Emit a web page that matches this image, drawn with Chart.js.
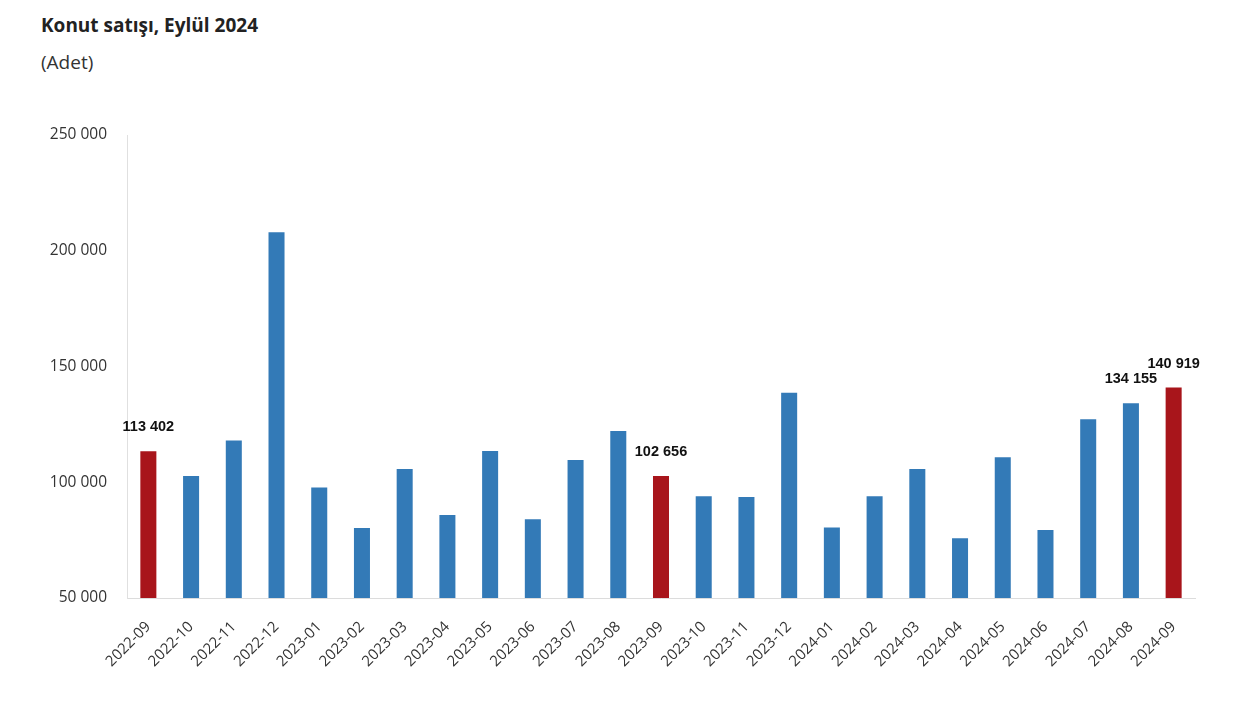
<!DOCTYPE html>
<html>
<head>
<meta charset="utf-8">
<script src="https://cdn.jsdelivr.net/npm/chart.js@4.4.1/dist/chart.umd.min.js"></script>
<style>
  body { margin: 0; background: #fff; }
  .wrap { position: relative; width: 1239px; height: 705px; }
  .title { position: absolute; left: 41px; top: 12px; font: bold 19px "Open Sans", sans-serif; color: #222; }
  .sub { position: absolute; left: 41px; top: 49px; font: 19px "Open Sans", sans-serif; color: #333; }
  canvas { position: absolute; left: 0; top: 0; }
</style>
</head>
<body>
<div class="wrap">
  <div class="title">Konut satışı, Eylül 2024</div>
  <div class="sub">(Adet)</div>
  <canvas id="chart" width="1239" height="705"></canvas>
</div>
<script>
const categories = ['2022-09','2022-10','2022-11','2022-12','2023-01','2023-02','2023-03','2023-04',
  '2023-05','2023-06','2023-07','2023-08','2023-09','2023-10','2023-11','2023-12',
  '2024-01','2024-02','2024-03','2024-04','2024-05','2024-06','2024-07','2024-08','2024-09'];
const sales = [113402, 102700, 118000, 208000, 97700, 80200, 105700, 85900,
  113500, 84000, 109600, 122100, 102656, 93900, 93600, 138700,
  80500, 94000, 105700, 75800, 110800, 79400, 127200, 134155, 140919];
// September bars are red, the rest blue
const highlighted = ['2022-09', '2023-09', '2024-09'];
// bars that carry a value label
const labeled = ['2022-09', '2023-09', '2024-08', '2024-09'];

const BLUE = '#337ab7';
const RED = '#a8151b';

const fmt = v => String(v).replace(/\B(?=(\d{3})+(?!\d))/g, ' ');

const valueLabels = {
  id: 'valueLabels',
  afterDatasetsDraw(chart) {
    const ctx = chart.ctx;
    const meta = chart.getDatasetMeta(0);
    ctx.save();
    ctx.font = 'bold 14.5px "Liberation Sans", Arial, sans-serif';
    ctx.fillStyle = '#111';
    ctx.textAlign = 'center';
    ctx.textBaseline = 'middle';
    categories.forEach((c, i) => {
      if (!labeled.includes(c)) return;
      const bar = meta.data[i];
      ctx.fillText(fmt(sales[i]), bar.x, bar.y - 24);
    });
    ctx.restore();
  }
};

new Chart(document.getElementById('chart'), {
  type: 'bar',
  data: {
    labels: categories,
    datasets: [{
      data: sales,
      backgroundColor: categories.map(c => highlighted.includes(c) ? RED : BLUE),
      barPercentage: 0.75,
      categoryPercentage: 0.5
    }]
  },
  options: {
    responsive: false,
    animation: false,
    layout: { padding: { top: 135, right: 44, bottom: 0, left: 0 } },
    plugins: { legend: { display: false }, tooltip: { enabled: false } },
    scales: {
      x: {
        grid: { display: false, drawTicks: false },
        border: { color: '#dcdcdc', width: 1 },
        ticks: {
          font: { family: '"Open Sans", sans-serif', size: 15 },
          color: '#333',
          maxRotation: 45,
          minRotation: 45,
          autoSkip: false,
          padding: 20
        },
        afterFit(scale) { scale.height = 107; }
      },
      y: {
        min: 50000,
        max: 250000,
        grid: { display: false, drawTicks: false },
        border: { color: '#e0e0e0', width: 1 },
        ticks: {
          stepSize: 50000,
          font: { family: '"Open Sans", sans-serif', size: 15.5 },
          color: '#333',
          padding: 20,
          callback: v => fmt(v)
        },
        afterFit(scale) { scale.width = 127; }
      }
    }
  },
  plugins: [valueLabels]
});
</script>
</body>
</html>
